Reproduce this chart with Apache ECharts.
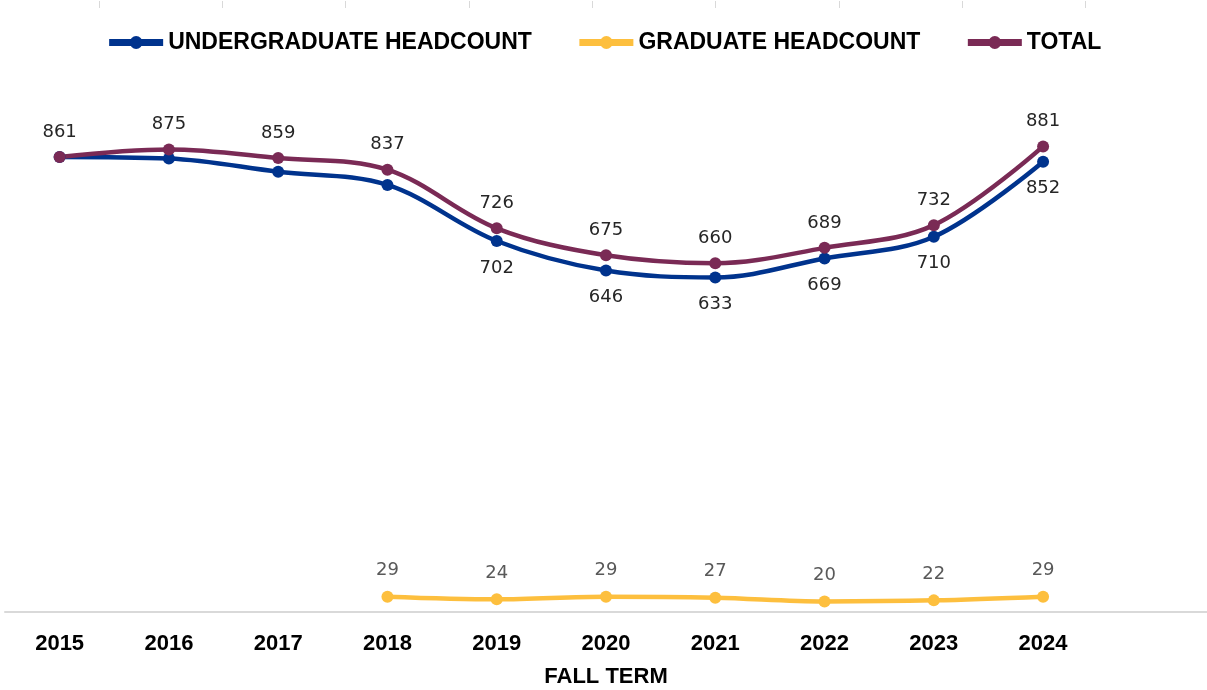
<!DOCTYPE html>
<html>
<head>
<meta charset="utf-8">
<script src="https://cdn.jsdelivr.net/npm/echarts@6/dist/echarts.min.js"></script>
<style>
  html, body { margin: 0; padding: 0; background: #fff; }
  #chart { width: 1207px; height: 690px; }
</style>
</head>
<body>
<div id="chart"></div>
<script>
// fall term headcounts
const years = ['2015', '2016', '2017', '2018', '2019', '2020', '2021', '2022', '2023', '2024'];
const undergrad = [861, 858, 833, 808, 702, 646, 633, 669, 710, 852];
const graduate = [null, null, null, 29, 24, 29, 27, 20, 22, 29];
const total = [861, 875, 859, 837, 726, 675, 660, 689, 732, 881];

const labelFont = 'DejaVu Sans';
const boldFont = '"Liberation Sans", Arial, sans-serif';

const myChart = echarts.init(document.getElementById('chart'));

const option = {
  animation: false,
  legend: {
    top: 26,
    left: 'center',
    itemWidth: 54,
    itemHeight: 16,
    itemGap: 44,
    lineStyle: { width: 7 },
    textStyle: { fontFamily: boldFont, fontWeight: 'bold', fontSize: 23, color: '#000' },
    data: ['UNDERGRADUATE HEADCOUNT', 'GRADUATE HEADCOUNT', 'TOTAL']
  },
  grid: [
    { left: 5, right: 0, top: 83.5, bottom: 78, outerBoundsMode: 'none' },
    // faint tick marks along the top edge
    { left: -24.5, width: 1233.5, top: 0, height: 1, outerBoundsMode: 'none' }
  ],
  xAxis: [
    {
      type: 'category',
      data: years.concat(['']),
      boundaryGap: true,
      axisLine: { lineStyle: { color: '#d9d9d9', width: 2 } },
      axisTick: { show: false },
      axisLabel: { fontFamily: boldFont, fontWeight: 'bold', fontSize: 22, color: '#000', margin: 21 },
      name: 'FALL TERM',
      nameLocation: 'middle',
      nameGap: 54,
      nameTextStyle: { fontFamily: boldFont, fontWeight: 'bold', fontSize: 22, color: '#000' }
    },
    {
      gridIndex: 1,
      type: 'value',
      position: 'top',
      min: 0,
      max: 10,
      interval: 1,
      axisLine: { show: false },
      axisTick: { inside: true, length: 7, lineStyle: { color: '#d9d9d9' } },
      axisLabel: { show: false },
      splitLine: { show: false }
    }
  ],
  yAxis: [
    { type: 'value', min: 0, max: 1000, show: false, splitLine: { show: false } },
    { gridIndex: 1, type: 'value', show: false }
  ],
  series: [
    {
      name: 'UNDERGRADUATE HEADCOUNT',
      type: 'line',
      data: undergrad,
      smooth: 0.35,
      symbol: 'circle',
      symbolSize: 12,
      lineStyle: { width: 4.5, color: '#00338d' },
      itemStyle: { color: '#00338d' },
      label: {
        show: true,
        position: 'bottom',
        distance: 12,
        fontFamily: labelFont,
        fontSize: 18,
        color: '#262626',
        formatter: p => (p.dataIndex >= 4 ? p.value : '')
      }
    },
    {
      name: 'GRADUATE HEADCOUNT',
      type: 'line',
      data: graduate,
      smooth: 0.35,
      symbol: 'circle',
      symbolSize: 12,
      lineStyle: { width: 4.5, color: '#fdbf3e' },
      itemStyle: { color: '#fdbf3e' },
      label: {
        show: true,
        position: 'top',
        distance: 11,
        fontFamily: labelFont,
        fontSize: 18,
        color: '#595959'
      }
    },
    {
      name: 'TOTAL',
      type: 'line',
      data: total,
      smooth: 0.35,
      symbol: 'circle',
      symbolSize: 12,
      lineStyle: { width: 4.5, color: '#7a2a55' },
      itemStyle: { color: '#7a2a55' },
      label: {
        show: true,
        position: 'top',
        distance: 10,
        fontFamily: labelFont,
        fontSize: 18,
        color: '#262626'
      }
    }
  ]
};

myChart.setOption(option);
window.addEventListener('resize', function () {
  myChart.resize();
});
</script>
</body>
</html>
